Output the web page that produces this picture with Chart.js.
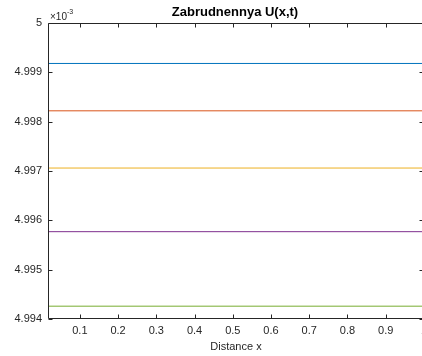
<!DOCTYPE html>
<html>
<head>
<meta charset="utf-8">
<script src="https://cdn.jsdelivr.net/npm/chart.js@4"></script>
<style>
  html, body { margin: 0; padding: 0; background: #fff; overflow: hidden; }
  #wrap { width: 422px; height: 356px; overflow: hidden; }
</style>
</head>
<body>
<div id="wrap"><canvas id="chart" width="432" height="356"></canvas></div>
<script>
// distance range (x), values in units of 1e-3
const distance = [0.0167, 1.0];
const seriesNames = ['t1', 't2', 't3', 't4', 't5'];
const seriesLevels = [4.99918, 4.99822, 4.99706, 4.99577, 4.99426];
const seriesColors = ['#0072BD', '#D95319', '#EDB120', '#7E2F8E', '#77AC30'];
const xTicks = [0.1, 0.2, 0.3, 0.4, 0.5, 0.6, 0.7, 0.8, 0.9, 1];
const yTicks = [4.994, 4.995, 4.996, 4.997, 4.998, 4.999, 5];

const FONT = 'Liberation Sans, Arial, Helvetica, sans-serif';
const AXIS = '#262626';

const datasets = seriesNames.map((name, i) => ({
    label: name,
    data: distance.map(x => ({ x: x, y: seriesLevels[i] })),
    borderColor: seriesColors[i],
    borderWidth: 1,
    pointRadius: 0,
    fill: false
}));

// matlab-like frame, inward ticks, title and exponent
const matlabFrame = {
    id: 'matlabFrame',
    afterDraw(chart) {
        const ctx = chart.ctx;
        const a = chart.chartArea;
        const xs = chart.scales.x, ys = chart.scales.y;
        const L = Math.round(a.left) + 0.5, R = Math.round(a.right) - 0.5;
        const T = Math.round(a.top) + 0.5, B = Math.round(a.bottom) - 0.5;
        const tl = 4;
        ctx.save();
        ctx.strokeStyle = AXIS;
        ctx.lineWidth = 1;
        ctx.beginPath();
        ctx.moveTo(L, T); ctx.lineTo(R, T); ctx.lineTo(R, B); ctx.lineTo(L, B); ctx.closePath();
        xTicks.forEach(v => {
            const px = Math.round(xs.getPixelForValue(v)) + 0.5;
            ctx.moveTo(px, B); ctx.lineTo(px, B - tl);
            ctx.moveTo(px, T); ctx.lineTo(px, T + tl);
        });
        yTicks.forEach(v => {
            const py = Math.round(ys.getPixelForValue(v)) + 0.5;
            ctx.moveTo(L, py); ctx.lineTo(L + tl, py);
            ctx.moveTo(R, py); ctx.lineTo(R - tl, py);
        });
        ctx.stroke();

        ctx.fillStyle = '#000';
        ctx.font = 'bold 13px ' + FONT;
        ctx.textAlign = 'center';
        ctx.textBaseline = 'alphabetic';
        ctx.fillText('Zabrudnennya U(x,t)', 235, 16);

        ctx.fillStyle = AXIS;
        ctx.textAlign = 'left';
        ctx.font = '10px ' + FONT;
        ctx.fillText('\u00d710', 50, 20);
        const w = ctx.measureText('\u00d710').width;
        ctx.font = '7px ' + FONT;
        ctx.fillText('-3', 50 + w, 14);
        ctx.restore();
    }
};

new Chart(document.getElementById('chart'), {
    type: 'line',
    data: { datasets: datasets },
    options: {
        responsive: false,
        animation: false,
        devicePixelRatio: 1,
        layout: { padding: { left: 0, top: 23, right: 6, bottom: 0 } },
        plugins: {
            legend: { display: false },
            title: { display: false },
            tooltip: { enabled: false }
        },
        scales: {
            x: {
                type: 'linear',
                min: distance[0],
                max: distance[distance.length - 1],
                afterBuildTicks: s => { s.ticks = xTicks.map(v => ({ value: v })); },
                afterFit: s => { s.height = 37; },
                grid: { display: false, drawTicks: false },
                border: { display: false },
                ticks: {
                    color: AXIS,
                    padding: 5,
                    maxRotation: 0,
                    autoSkip: false,
                    font: { family: FONT, size: 11 },
                    callback: v => String(Number(v.toFixed(1)))
                },
                title: {
                    display: true,
                    text: 'Distance x',
                    color: AXIS,
                    padding: { top: 0, bottom: 2 },
                    font: { family: FONT, size: 11 }
                }
            },
            y: {
                type: 'linear',
                min: yTicks[0],
                max: yTicks[yTicks.length - 1],
                afterBuildTicks: s => { s.ticks = yTicks.map(v => ({ value: v })); },
                afterFit: s => { s.width = 48; },
                grid: { display: false, drawTicks: false },
                border: { display: false },
                ticks: {
                    color: AXIS,
                    padding: 6,
                    autoSkip: false,
                    font: { family: FONT, size: 11 },
                    callback: v => (Math.abs(v - 5) < 1e-9 ? '5' : v.toFixed(3))
                }
            }
        }
    },
    plugins: [matlabFrame]
});
</script>
</body>
</html>
